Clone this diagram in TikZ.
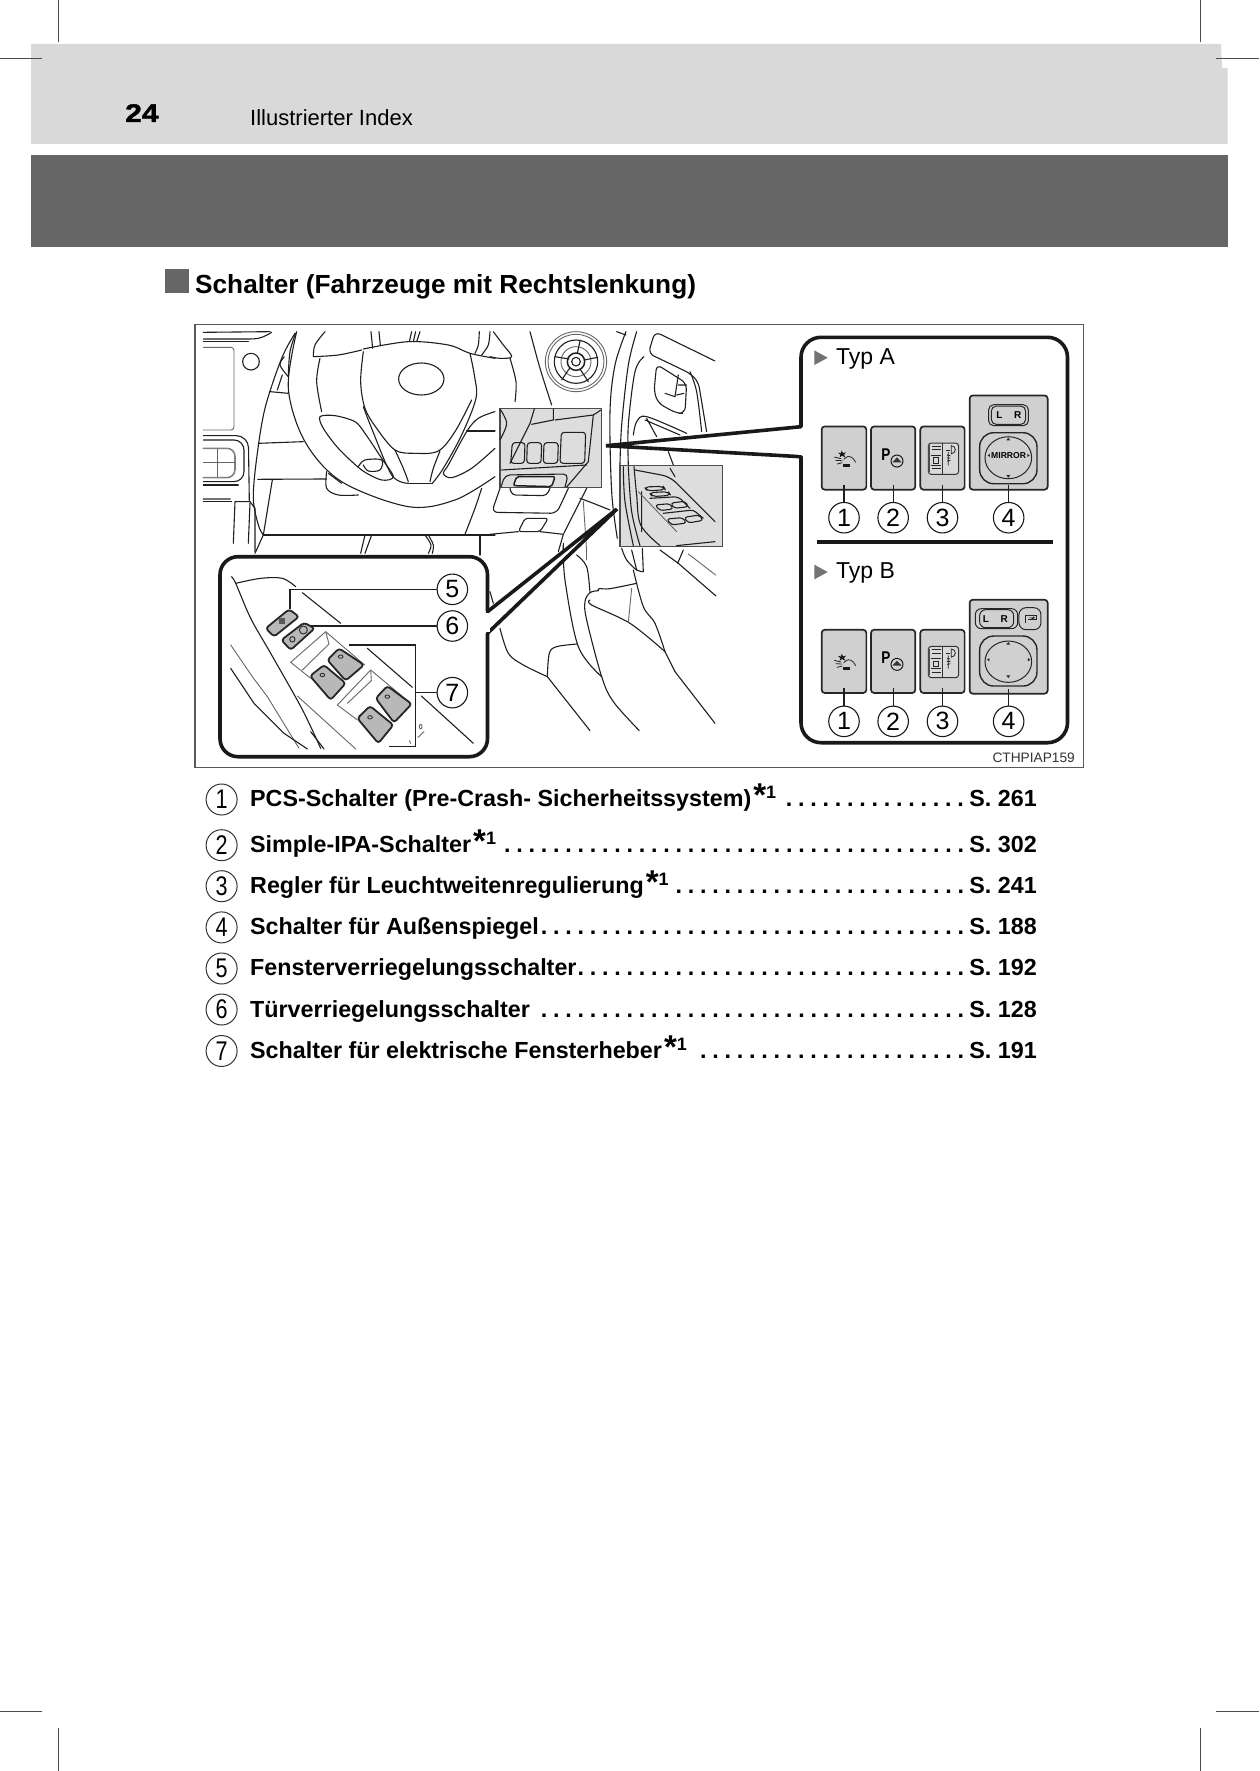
\documentclass[tikz,border=0pt]{standalone}
\usepackage{fontspec}
\setmainfont{Liberation Sans}
\newfontfamily\pagefont{Liberation Sans}[UprightFont=* Bold,FakeBold=1.6,FakeStretch=1.18]
\definecolor{bandlight}{HTML}{D9D9D9}
\definecolor{banddark}{HTML}{666666}
\definecolor{btnfill}{HTML}{D0D0D0}
\definecolor{boxfill}{HTML}{DDDDDD}
\definecolor{winfill}{HTML}{B8B8B8}
\newcommand\fs[1]{\fontsize{#1}{#1}\selectfont}
\newcommand\crv[1]{\draw[ill] plot[smooth,tension=.55] coordinates {#1};}
\newcommand\stern{\kern2pt{\fs{33}*}\raisebox{8pt}{\fs{18}1}}
\tikzset{
  ill/.style={line width=1.1pt,draw=black!88,line join=round,line cap=round},
  illg/.style={line width=.9pt,draw=black!60,line join=round,line cap=round},
  crop/.style={line width=.8pt,draw=black!70},
  callout/.style={line width=3.6pt,draw=black!90,fill=white,line join=round},
  graybox/.style={line width=1.6pt,draw=black!70,fill=boxfill},
  winsw/.style={line width=1.8pt,draw=black!85,fill=winfill,rounded corners=3pt},
  btn/.style={rectangle,draw=black!85,fill=btnfill,line width=1.7pt,rounded corners=3.2pt,inner sep=0},
  lead/.style={line width=1.1pt,draw=black!88},
  numc/.style={circle,draw=black!90,line width=1.1pt,fill=white,minimum size=30.5pt,inner sep=0,font=\fs{25}},
  listnum/.style={circle,draw=black!80,line width=1pt,minimum size=31pt,inner sep=0,font=\fs{27}},
  listtxt/.style={anchor=base west,inner sep=0,font=\fs{23.3}\bfseries},
  listpg/.style={anchor=base east,inner sep=0,font=\fs{23.3}\bfseries},
  listdots/.style={anchor=base east,inner sep=0,font=\fs{23.3}\bfseries},
  typ/.style={anchor=base west,inner sep=0,font=\fs{23}},
  tri/.style={fill=black!55,draw=none},
  ico/.style={line width=.8pt,draw=black!85},
  lrtext/.style={inner sep=0,font=\fs{10}\bfseries},
}
\newcommand\listrow[6]{%
  \node[listnum] (n#1) at (221.6,#2) {\scalebox{.8}[1]{#1}};
  \node[listtxt] (t#1) at (250,#3) {#4};
  \node[listdots] (d#1) at (967,#3) {\cleaders\hbox to 12.25pt{\hss.\hss}\hskip\dimexpr 12.25pt*#5\relax\kern0pt};
  \node[listpg] (p#1) at (1037,#3) {#6};
}
% three small buttons of one type; #1 = suffix, #2 = offset in zoom units
\newcommand\btnrow[2]{%
\begin{scope}[shift={(0,#2)}]
  \node[btn,minimum width=44.7pt,minimum height=63.3pt] (bo#1) at (159,413) {};
  \node[btn,minimum width=44.3pt,minimum height=63.3pt] (bt#1) at (306.5,413) {};
  \node[btn,minimum width=44.3pt,minimum height=63.3pt] (bd#1) at (454.5,413) {};
  % PCS icon
  \fill[black!90] (152,390)--(156,398)--(165,396)--(159,403)--(163,411)--(153,406)--(146,411)--(148,403)--(141,397)--(150,398)--cycle;
  \draw[ico] plot[smooth] coordinates {(158,417)(172,408)(186,414)(194,426)};
  \draw[ico] (130,410)--(150,415) (134,420)--(154,421) (138,431)--(154,427);
  \fill[black!90] (157,431) rectangle (178,439);
  % IPA icon
  \node[inner sep=0,font=\fs{17}\bfseries] (pp#1) at (285,403) {\scalebox{.8}[1]{P}};
  \draw[line width=1pt,draw=black!90] (318,422) circle[radius=18];
  \fill[black!80] (318,411)--(304,426)--(332,426)--cycle;
  % headlight levelling icon
  \draw[line width=1pt,draw=black!80,fill=btnfill!80,rounded corners=3pt] (412,368) rectangle (503,462);
  \draw[line width=1pt,draw=black!80] (455,368)--(455,462);
  \fill[black!70] (412,375) rectangle (418,455);
  \draw[ico] (422,378)--(450,378) (422,388)--(450,388) (422,445)--(450,445) (428,412) rectangle (442,428) (420,405)--(450,405) (420,435)--(450,435);
  \draw[ico] (481,400) arc[start angle=90,end angle=-90,radius=12] -- cycle;
  \fill[black!85] (464,388) rectangle (478,392);
  \draw[ico] (468,404)--(478,406) (468,413)--(478,413) (468,422)--(478,420) (472,395)--(472,435);
\end{scope}}
\begin{document}
\begin{tikzpicture}[x=1pt,y=-1pt]
\useasboundingbox (0,0) rectangle (1259,1771);
\fill[white] (0,0) rectangle (1259,1771);
% header bands
\fill[bandlight] (31,44)--(1221,44)--(1222,68)--(1227.5,68)--(1227.5,144)--(31,144)--cycle;
\fill[banddark] (31,155) rectangle (1227.5,247);
% crop marks
\draw[crop] (58.5,0)--(58.5,42);
\draw[crop] (0,58)--(42,58);
\draw[crop] (1200,0)--(1200,42);
\draw[crop] (1216,58)--(1259,58);
\draw[crop] (0,1711.7)--(42,1711.7);
\draw[crop] (1216,1711.7)--(1259,1711.7);
\draw[crop] (58,1727.7)--(58,1771);
\draw[crop] (1200,1727.7)--(1200,1771);
% header text
\node[anchor=base west,inner sep=0,font=\fs{25.5}\pagefont] (pagenr) at (125,122) {24};
\node[anchor=base west,inner sep=0,font=\fs{22}] (chapter) at (250,125.5) {Illustrierter Index};
\fill[banddark] (165,269) rectangle (189,293);
\node[anchor=base west,inner sep=0,font=\fs{26.2}\bfseries] (heading) at (195,293.7) {Schalter (Fahrzeuge mit Rechtslenkung)};
% frame
\draw[line width=1.3pt,draw=black!65] (195,324.5) rectangle (1083.5,767.7);
% ---------------- background drawing, left part
\begin{scope}[shift={(195,325)},x=.3333pt,y=-.3333pt]
 \crv{(305,20)(280,190)(330,350)(440,470)(640,545)(780,525)(900,455)}
 \crv{(355,95)(430,90)(500,75)}
 \crv{(505,72)(640,50)(760,60)(825,85)(900,100)}
 \crv{(390,20)(360,60)(355,95)}
 \crv{(375,100)(365,170)(380,260)}
 \crv{(505,80)(497,170)(510,250)(545,310)(600,375)(660,385)(730,378)(780,320)(830,225)}
 \crv{(825,85)(838,150)(843,220)(800,330)(745,430)(712,475)}
 \crv{(505,245)(530,310)(590,450)(640,475)}
 \draw[ill] (640,475)--(712,475);
 \crv{(600,375)(625,430)(640,470)}
 \crv{(735,378)(715,430)(705,470)}
 \draw[ill] (679,162) ellipse[x radius=68,y radius=48];
 \draw[ill] plot[smooth cycle,tension=.5] coordinates {(375,275)(420,272)(480,290)(510,325)(560,400)(595,455)(560,465)(500,435)(430,370)(385,310)};
 \crv{(900,260)(850,280)(815,320)(760,420)(745,445)(770,458)(830,430)(900,370)}
 \draw[ill] (815,318)--(900,318);
 \crv{(490,425)(510,405)(560,405)(555,435)(520,438)(505,420)}
 % dash and display
 \draw[ill] (25,22)--(225,20);
 \crv{(25,42)(120,42)(190,40)(230,22)}
 \draw[ill] (25,50)--(160,50);
 \draw[illg,rounded corners=3pt] (25,67)--(117,67)--(117,315)--(25,315);
 \draw[ill] (168,110) circle[radius=25];
 \draw[ill,rounded corners=12pt] (25,332)--(160,332)--(163,530);
 \draw[ill,rounded corners=10pt] (25,345)--(147,345)--(147,470)--(25,470);
 \draw[ill,line width=1.6pt,draw=black!50,rounded corners=8pt] (25,370)--(120,370)--(120,458)--(25,458);
 \draw[illg] (25,412)--(120,412) (68,372)--(68,455);
 \draw[ill] (25,480)--(130,480);
 \draw[ill,line width=2pt,draw=black!55] (25,523)--(105,523);
 \draw[ill] (25,529)--(110,529);
 \draw[ill] (115,655)--(120,530)--(165,530)--(180,550)--(180,680);
 \draw[ill] (165,535)--(160,655);
 % A pillar
 \crv{(300,25)(260,100)(210,250)(185,400)(175,520)(190,600)(205,630)}
 \crv{(302,25)(285,80)(280,150)}
 \crv{(268,95)(255,120)(280,155)}
 \draw[ill] (225,200)--(280,205) (247,195)--(262,150);
 \draw[ill] (190,355)--(325,350);
 \draw[ill] (188,463)--(395,462);
 \draw[ill] (232,465)--(205,630)--(180,685);
 \draw[ill] (205,630)--(900,630);
 \draw[ill] (510,630)--(497,685) (530,630)--(510,685);
 \crv{(690,630)(708,660)(700,685)}
 \crv{(700,630)(715,660)(712,685)}
 \draw[ill] (855,630)--(855,690);
 \crv{(810,628)(840,550)(860,490)}
 \crv{(395,440)(395,490)(430,510)(490,510)}
 \draw[ill] (400,445)--(440,475);
 \draw[ill] (528,20)--(533,70) (552,20)--(556,60) (650,20)--(643,50) (662,20)--(655,50) (675,20)--(665,50);
 \crv{(853,20)(850,60)(840,85)}
 \crv{(885,20)(880,60)(860,90)}
\end{scope}
% ---------------- background drawing, right part
\begin{scope}[shift={(490,325)},x=.3333pt,y=-.3333pt]
 \crv{(10,20)(40,60)(65,95)(30,100)(0,95)}
 \crv{(60,100)(78,170)(75,230)}
 \crv{(120,20)(150,130)(185,240)}
 % air vent
 \draw[illg] (258,110) ellipse[x radius=92,y radius=90];
 \draw[illg] (258,110) ellipse[x radius=84,y radius=82];
 \draw[ill] (258,110) circle[radius=65];
 \draw[illg] (258,110) circle[radius=45];
 \draw[ill,line width=1.5pt] (258,110) circle[radius=26];
 \draw[ill] (258,110) circle[radius=13];
 \draw[ill] (237,102)--(195,95) (262,85)--(270,48) (283,105)--(323,97) (270,132)--(295,170) (240,128)--(215,165);
 % pillar and door
 \crv{(408,20)(375,120)(360,260)(365,500)(382,640)}
 \crv{(440,20)(415,120)(395,300)(390,420)}
 \crv{(462,95)(435,140)(415,300)(415,420)}
 \draw[ill] (380,20)--(408,30);
 \draw[ill,rounded corners=6pt] (675,108)--(495,20)--(475,85)--(600,145)--(625,170)--(650,320);
 \crv{(600,140)(620,200)(635,320)}
 \draw[ill,rounded corners=6pt] (500,118)--(590,175)--(585,265)--(560,265)--(505,235)--(492,200)--cycle;
 \draw[ill] (565,150)--(555,215)--(525,205) (565,180)--(590,180) (560,210)--(582,205);
 \crv{(430,330)(440,290)(470,275)(590,325)}
 \draw[ill] (470,280)--(500,335) (465,285)--(570,330);
 \crv{(535,380)(550,420)}
 % below gray box A
 \draw[ill,rounded corners=4pt] (60,490)--(65,510)--(170,512)--(180,490);
 \draw[ill,rounded corners=6pt] (30,490)--(5,562)--(200,565)--(235,490);
 \draw[ill,rounded corners=3pt] (105,580)--(85,620)--(150,620)--(175,580)--cycle;
 \draw[ill] (0,628)--(85,620) (150,620)--(220,628)--(290,490) (220,628)--(205,680);
 \crv{(270,520)(310,535)(360,555)}
 \draw[illg] (280,530)--(290,680);
 % gray box A
 \draw[graybox] (30,250) rectangle (335,488);
 \crv{(30,345)(50,295)(30,252)}
 \draw[ill] (133,252)--(120,295)--(60,415) (190,252)--(190,285)--(125,298);
 \draw[ill] (195,285)--(310,270)--(333,255);
 \draw[ill] (310,270)--(295,410)--(230,486);
 \draw[ill] (35,435)--(290,420);
 \draw[ill,rounded corners=3pt] (67,353)--(105,353)--(103,415)--(62,415)--cycle;
 \draw[ill,rounded corners=3pt] (112,353)--(155,353)--(153,415)--(110,415)--cycle;
 \draw[ill,rounded corners=3pt] (162,353)--(205,353)--(203,415)--(160,415)--cycle;
 \draw[ill,rounded corners=3pt] (214,322)--(287,322)--(284,415)--(210,415)--cycle;
 \draw[ill,rounded corners=5pt] (33,486)--(45,450)--(235,447)--(225,486);
 \draw[ill,line width=1.5pt,rounded corners=2pt,fill=boxfill!60] (80,455)--(195,455)--(185,485)--(70,482)--cycle;
 % gray box B
 \draw[graybox] (390,422) rectangle (698,665);
 \crv{(400,425)(405,530)(430,662)}
 \crv{(415,425)(425,560)(450,662)}
 \crv{(432,425)(440,510)(452,600)(510,662)}
 \draw[ill,rounded corners=8pt] (435,435)--(540,455)--(675,590);
 \draw[ill] (455,500)--(455,620) (560,662)--(675,650) (540,430)--(555,455);
 \draw[illg] (445,500)--(560,620);
 \draw[ill,rounded corners=4pt] (463,486)--(520,484)--(526,494)--(472,498)--cycle;
 \draw[ill,rounded corners=4pt] (478,503)--(535,500)--(542,511)--(487,515)--cycle;
 \draw[ill,rounded corners=4pt] (480,520)--(565,515)--(600,550);
 \draw[ill,rounded corners=3pt] (495,540)--(540,536)--(550,552)--(510,557)--cycle;
 \draw[ill,rounded corners=3pt] (542,534)--(585,529)--(596,545)--(552,550)--cycle;
 \draw[ill,rounded corners=3pt] (520,565)--(610,555)--(640,580);
 \draw[ill,rounded corners=3pt] (530,582)--(578,578)--(590,594)--(545,600)--cycle;
 \draw[ill,rounded corners=3pt] (582,577)--(628,570)--(640,586)--(595,594)--cycle;
\end{scope}
% ---------------- legs
\begin{scope}[shift={(490,540)},x=.3333pt,y=-.3333pt]
 \crv{(395,25)(410,60)(440,90)(460,95)}
 \draw[ill] (460,95)--(457,25);
 \crv{(425,30)(440,90)}
 \crv{(430,90)(460,200)(495,250)(525,335)}
 \draw[ill] (525,335)--(555,395)--(675,550);
 \draw[ill] (510,30)--(565,70)--(678,168) (580,30)--(563,70);
 \draw[illg] (595,42)--(677,105);
 \crv{(325,152)(300,158)(285,185)(290,240)(335,410)(370,485)(448,572)}
 \crv{(325,152)(328,146)(360,146)(440,130)}
 \crv{(300,158)(290,80)(260,45)}
 \draw[illg] (290,20)--(290,60);
 \crv{(220,10)(225,120)(265,320)(335,410)}
 \crv{(300,180)(305,195)(420,250)(525,335)}
 \draw[illg] (425,145)--(415,248);
 \crv{(30,265)(55,340)(100,375)(172,410)}
 \draw[ill] (172,410)--(300,572);
 \crv{(172,410)(178,340)(200,320)(262,312)}
 \draw[ill] (0,155)--(10,190);
\end{scope}
% ---------------- callout windows
\coordinate (apexA) at (606,445.7);
\coordinate (apexB) at (617,509);
\draw[callout,rounded corners=20pt] (801,426.7)--(801,337.3)--(1067.5,337.3)--(1067.5,742.7)--(801,742.7)--(801,456.7);
\fill[white] (801,426.7)--(apexA)--(801,456.7)--cycle;
\draw[callout,fill=none,line cap=round,line join=miter] (801,426.7)--(apexA)--(801,456.7);
\fill[white] (798,428.5) rectangle (803,455);
\draw[callout,rounded corners=18pt] (487.5,611.7)--(487.5,556.7)--(220,556.7)--(220,756.7)--(487.5,756.7)--(487.5,633.3);
\fill[white] (487.5,611.7)--(apexB)--(487.5,633.3)--cycle;
\draw[callout,fill=none,line cap=round,line join=miter] (487.5,611.7)--(apexB)--(487.5,633.3);
\fill[white] (485.3,613.5) rectangle (489.8,631.5);
% ---------------- window switch inset
\begin{scope}[shift={(210.7,550)},x=.3333pt,y=-.3333pt]
 \crv{(62,80)(75,100)(120,205)(180,310)(265,460)(300,530)(330,595)}
 \crv{(75,100)(150,85)(215,85)(255,110)}
 \draw[ill] (275,128)--(390,220) (470,295)--(605,412) (632,438)--(788,580);
 \draw[illg] (60,285)--(125,380)--(170,440)--(265,595);
 \draw[ill] (60,355)--(130,460)--(220,550)--(290,597);
 \draw[illg] (260,438)--(435,597);
 \draw[ill] (300,545)--(340,597);
 \draw[winsw] (165,235)--(235,178)--(265,200)--(190,260)--cycle;
 \fill[black!65] (205,205) rectangle (222,222);
 \draw[winsw] (212,270)--(280,218)--(312,235)--(240,300)--cycle;
 \draw[line width=.9pt,draw=black!85] (278,240) circle[radius=12];
 \draw[line width=.9pt,draw=black!85] (245,268) circle[radius=8];
 % panels
 \draw[illg] (240,337)--(345,245)--(462,345);
 \draw[illg] (345,245)--(355,282)--(275,360);
 \draw[illg] (240,337)--(300,385);
 \draw[illg] (380,465)--(480,360)--(600,460);
 \draw[illg] (480,360)--(482,392)--(410,460);
 \draw[illg] (380,465)--(440,510);
 \draw[winsw] (350,330)--(385,295)--(460,345)--(405,392)--cycle;
 \draw[winsw] (298,378)--(340,345)--(405,400)--(360,450)--cycle;
 \draw[winsw] (495,445)--(530,408)--(603,462)--(550,518)--cycle;
 \draw[winsw] (440,505)--(478,468)--(548,525)--(503,580)--cycle;
 \draw[line width=.8pt,draw=black!85] (390,320) ellipse[x radius=7,y radius=5];
 \draw[line width=.8pt,draw=black!85] (335,375) ellipse[x radius=7,y radius=5];
 \draw[line width=.8pt,draw=black!85] (530,440) ellipse[x radius=7,y radius=5];
 \draw[line width=.8pt,draw=black!85] (478,502) ellipse[x radius=7,y radius=5];
 \draw[illg] (630,530) ellipse[x radius=4,y radius=7];
 \draw[illg] (622,562)--(640,545) (596,572)--(600,580);
 % callouts with numbers
 \node[numc] (c5) at (725,118) {5};
 \node[numc] (c6) at (725,228) {6};
 \node[numc] (c7) at (725,428) {7};
 \coordinate (s5) at (238,178);
 \coordinate (s6) at (300,228);
 \coordinate (s7a) at (415,285);
 \coordinate (s7b) at (535,590);
 \coordinate (s7c) at (615,428);
 \draw[lead] (c5.west) -| (s5);
 \draw[lead] (c6.west) -- (s6);
 \draw[lead] (c7.west) -- (s7c);
 \draw[lead] (s7a) -| (s7c) |- (s7b);
\end{scope}
% ---------------- type panels
\begin{scope}[shift={(791,320.4)},x=.3333pt,y=-.3333pt]
 \fill[tri] (70,90)--(110,112)--(70,134)--cycle;
 \node[typ] (typa) at (135,132) {Typ A};
 \btnrow{a}{0}
 \node[btn,minimum width=78pt,minimum height=94.3pt] (bfa) at (653,366.5) {};
 \draw[line width=1pt,draw=black!85,rounded corners=5pt] (593,253) rectangle (712,316);
 \draw[line width=1pt,draw=black!85,rounded corners=5pt] (601,257) rectangle (704,312);
 \node[lrtext] (la) at (625,285) {L};
 \node[lrtext] (ra) at (680,285) {R};
 \draw[line width=1.4pt,draw=black!85,rounded corners=14pt] (566,337) rectangle (738,490);
 \draw[line width=1pt,draw=black!85] (652,412) ellipse[x radius=70,y radius=63];
 \node[inner sep=0,font=\fs{8.6}\bfseries] (mir) at (653,406) {MIRROR};
 \fill[black!85] (652,352)--(646,360)--(658,360)--cycle (652,472)--(646,464)--(658,464)--cycle;
 \fill[black!85] (590,405)--(597,400)--(597,410)--cycle (716,405)--(709,400)--(709,410)--cycle;
 \node[numc] (c1a) at (159,592) {1};
 \node[numc] (c2a) at (306.5,592) {2};
 \node[numc] (c3a) at (454.5,592) {3};
 \node[numc] (c4a) at (653,592) {4};
 \draw[lead] (c1a) -- ([yshift=6pt]boa.south);
 \draw[lead] (c2a) -- ([yshift=6pt]bta.south);
 \draw[lead] (c3a) -- ([yshift=6pt]bda.south);
 \draw[lead] (c4a) -- ([yshift=6pt]bfa.south);
 \draw[line width=3.8pt,draw=black!90] (78,664)--(785,664);
 \fill[tri] (70,733)--(110,755)--(70,777)--cycle;
 \node[typ] (typb) at (135,773) {Typ B};
 \btnrow{b}{610}
 \node[btn,minimum width=78pt,minimum height=94pt] (bfb) at (653,979) {};
 \draw[line width=1pt,draw=black!85,rounded corners=6pt] (553,865) rectangle (680,925);
 \draw[line width=1pt,draw=black!85,rounded corners=6pt] (566,868) rectangle (668,922);
 \node[lrtext] (lb) at (585,895) {L};
 \node[lrtext] (rb) at (640,895) {R};
 \draw[line width=1pt,draw=black!85,rounded corners=7pt] (684,862) rectangle (750,928);
 \draw[line width=.9pt,draw=black!85] (702,908)--(702,884)--(735,884)--(735,898)--(712,898);
 \fill[black!85] (714,892)--(726,892)--(726,888)--(732,892)--(726,896)--cycle;
 \draw[line width=1.4pt,draw=black!85,rounded corners=14pt] (566,947) rectangle (738,1097);
 \draw[line width=1pt,draw=black!85] (652,1024) ellipse[x radius=70,y radius=62];
 \fill[black!85] (652,965)--(646,973)--(658,973)--cycle (652,1073)--(646,1065)--(658,1065)--cycle;
 \fill[black!85] (588,1018)--(595,1013)--(595,1023)--cycle (718,1018)--(711,1013)--(711,1023)--cycle;
 \node[numc] (c1b) at (159,1203) {1};
 \node[numc] (c2b) at (306.5,1203) {2};
 \node[numc] (c3b) at (454.5,1203) {3};
 \node[numc] (c4b) at (653,1203) {4};
 \draw[lead] (c1b) -- ([yshift=6pt]bob.south);
 \draw[lead] (c2b) -- ([yshift=6pt]btb.south);
 \draw[lead] (c3b) -- ([yshift=6pt]bdb.south);
 \draw[lead] (c4b) -- ([yshift=6pt]bfb.south);
\end{scope}
\node[anchor=base east,inner sep=0,font=\fs{13.7},text=black!80] (code) at (1075,762.7) {CTHPIAP159};
% ---------------- list
\listrow{1}{799.5}{806.8}{PCS-Schalter (Pre-Crash- Sicherheitssystem)\stern}{15}{S. 261}
\listrow{2}{845.2}{852.5}{Simple-IPA-Schalter\stern}{38}{S. 302}
\listrow{3}{886.2}{893.5}{Regler für Leuchtweitenregulierung\stern}{24}{S. 241}
\listrow{4}{927.4}{934.8}{Schalter für Außenspiegel}{35}{S. 188}
\listrow{5}{968.5}{975.8}{Fensterverriegelungsschalter}{32}{S. 192}
\listrow{6}{1009.5}{1017.2}{Türverriegelungsschalter}{35}{S. 128}
\listrow{7}{1051}{1058.2}{Schalter für elektrische Fensterheber\stern}{22}{S. 191}
\end{tikzpicture}
\end{document}
